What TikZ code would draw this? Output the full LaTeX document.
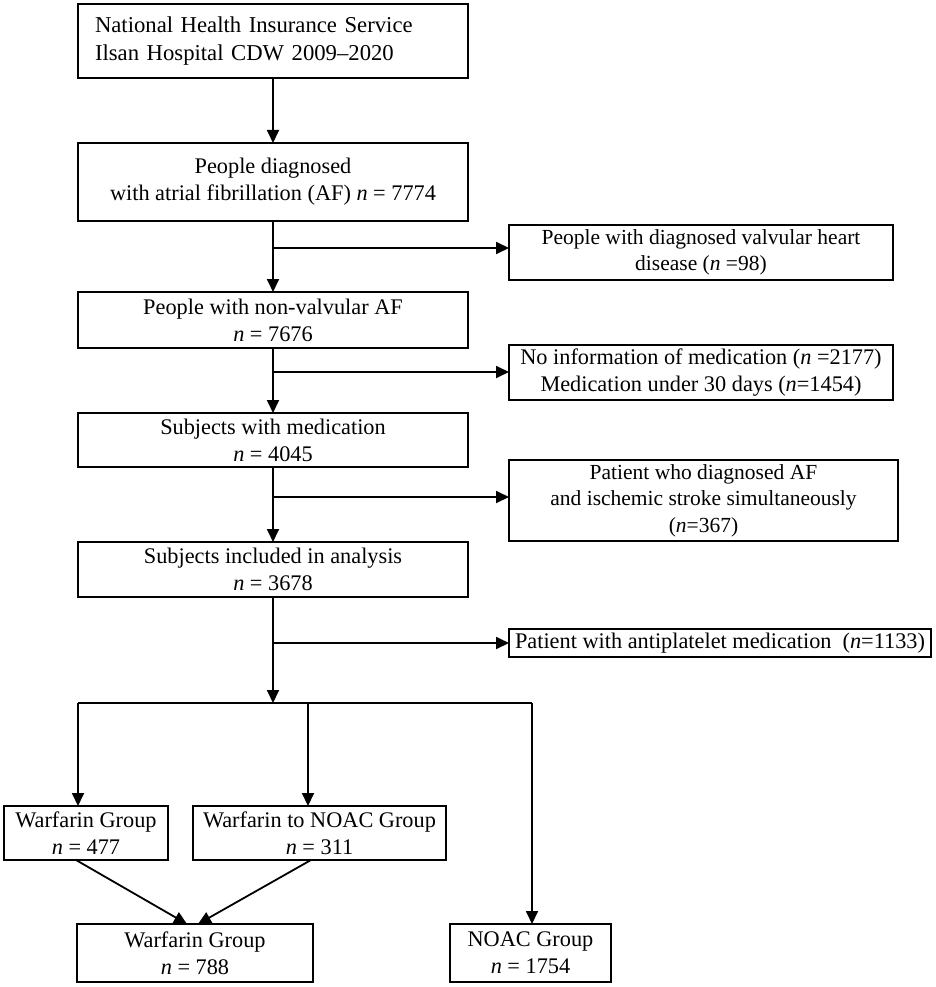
\documentclass[tikz,border=0pt]{standalone}
\usepackage{fontspec}
\setmainfont{Liberation Serif}
\usetikzlibrary{arrows.meta,calc}
\tikzset{
  box/.style={draw, line width=1.3pt, inner sep=0pt, outer sep=0pt, align=center,
    font=\fontsize{22.3}{27}\selectfont},
  arr/.style={line width=1.8pt, -{Triangle[length=13pt,width=12pt]}},
  ln/.style={line width=1.8pt},
}
\begin{document}
\begin{tikzpicture}[x=1pt,y=-1pt]
\useasboundingbox (0,0) rectangle (935,987);
% main column
\node[box, minimum width=390pt, minimum height=74pt, text width=356pt, align=left, font=\fontsize{22.7}{28}\selectfont] (b1) at (273,41)
  {National Health Insurance Service\\Ilsan Hospital CDW 2009–2020};
\node[box, minimum width=390pt, minimum height=78pt] (b2) at (273,182)
  {People diagnosed\\with atrial fibrillation (AF) \textit{n} = 7774};
\node[box, minimum width=390pt, minimum height=56pt] (b3) at (273,320)
  {People with non-valvular AF\\\textit{n} = 7676};
\node[box, minimum width=390pt, minimum height=54pt] (b4) at (273,440)
  {Subjects with medication\\\textit{n} = 4045};
\node[box, minimum width=390pt, minimum height=55pt] (b5) at (273,569.5)
  {Subjects included in analysis\\\textit{n} = 3678};
% side boxes
\node[box, minimum width=384pt, minimum height=55pt, font=\fontsize{21.5}{26}\selectfont] (s1) at (701,252.5)
  {People with diagnosed valvular heart\\disease (\textit{n} =98)};
\node[box, minimum width=384pt, minimum height=55pt] (s2) at (701,372.5)
  {No information of medication (\textit{n} =2177)\\Medication under 30 days (\textit{n}=1454)};
\node[box, minimum width=389pt, minimum height=81pt, font=\fontsize{21.5}{26.5}\selectfont] (s3) at (703.5,500.5)
  {Patient who diagnosed AF\\and ischemic stroke simultaneously\\(\textit{n}=367)};
\node[box, minimum width=422pt, minimum height=28pt] (s4) at (720,643)
  {Patient with antiplatelet medication~~(\textit{n}=1133)};
% groups
\node[box, minimum width=164pt, minimum height=54pt] (w1) at (86,833)
  {Warfarin Group\\\textit{n} = 477};
\node[box, minimum width=253pt, minimum height=54pt] (w2) at (319.5,833)
  {Warfarin to NOAC Group\\\textit{n} = 311};
\node[box, minimum width=236pt, minimum height=58pt] (w3) at (195,953)
  {Warfarin Group\\\textit{n} = 788};
\node[box, minimum width=161pt, minimum height=58pt] (na) at (530.5,953)
  {NOAC Group\\\textit{n} = 1754};
% coordinates
\coordinate (j1) at (273,248);
\coordinate (j2) at (273,372);
\coordinate (j3) at (273,497);
\coordinate (j4) at (273,643);
\coordinate (sp) at (273,703);
\coordinate (hl) at (78,703);
\coordinate (hm) at (308,703);
\coordinate (hr) at (532,703);
% connectors
\draw[arr] (b1.south) -- (b2.north);
\draw[arr] (b2.south) -- (b3.north);
\draw[arr] (b3.south) -- (b4.north);
\draw[arr] (b4.south) -- (b5.north);
\draw[arr] (b5.south) -- (sp);
\draw[arr] (j1) -- (j1 -| s1.west);
\draw[arr] (j2) -- (j2 -| s2.west);
\draw[arr] (j3) -- (j3 -| s3.west);
\draw[arr] (j4) -- (j4 -| s4.west);
\draw[ln] (hl) -- (hr);
\draw[arr] (hl) -- (hl |- w1.north);
\draw[arr] (hm) -- (hm |- w2.north);
\draw[arr] (hr) -- (hr |- na.north);
\draw[arr] ($(w1.south west)+(72,0)$) -- ($(w3.north west)+(110,0)$);
\draw[arr] ($(w2.south west)+(118,0)$) -- ($(w3.north west)+(121,0)$);
\end{tikzpicture}
\end{document}
